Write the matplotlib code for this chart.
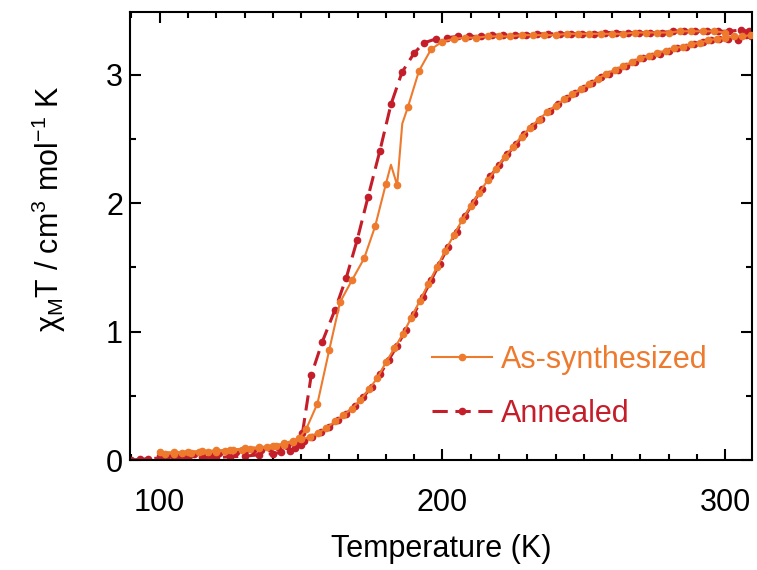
import matplotlib
matplotlib.use("Agg")
import matplotlib.pyplot as plt
from matplotlib.ticker import MultipleLocator

plt.rcParams['font.family'] = ['Liberation Sans', 'DejaVu Sans']
plt.rcParams['mathtext.fontset'] = 'custom'
plt.rcParams['mathtext.rm'] = 'Liberation Sans'
plt.rcParams['mathtext.it'] = 'Liberation Sans'

# ---------------- data ----------------
# As-synthesized: heating branch (abrupt)
as_heat_T = [100, 105, 110, 115, 120, 125, 130, 135, 140, 144, 147, 149.4, 151.8,
             155.8, 160, 163.8, 168, 172.3, 176.2, 180, 181.8, 184, 185.8, 187.8,
             191.7, 196, 200, 204, 208, 212, 216, 220, 224, 228, 232, 236, 240,
             244, 248, 252, 256, 260, 264, 268, 272, 276, 280, 284, 288, 292,
             296, 300]
as_heat_chi = [0.06, 0.06, 0.065, 0.07, 0.075, 0.08, 0.09, 0.10, 0.11, 0.13, 0.15,
               0.17, 0.24, 0.44, 0.86, 1.23, 1.40, 1.57, 1.82, 2.15, 2.30, 2.14,
               2.62, 2.75, 3.03, 3.20, 3.26, 3.28, 3.29, 3.29, 3.30, 3.30, 3.30,
               3.31, 3.31, 3.31, 3.31, 3.32, 3.32, 3.32, 3.32, 3.32, 3.32, 3.33,
               3.33, 3.33, 3.33, 3.34, 3.34, 3.34, 3.34, 3.33]
as_heat_nomarker = [20, 22]

# As-synthesized: cooling branch (gradual)
as_cool_T = [309, 306, 303, 300, 297, 294, 291, 288, 285, 282, 279, 276, 273, 270,
             267, 264, 261, 258, 255, 252, 249, 246, 243, 240, 237, 234, 231, 228,
             225, 222, 219, 216, 213, 210, 207, 204, 201, 198, 195, 192, 189, 186,
             183, 180, 177, 174, 171, 168, 165, 162, 159, 156, 153, 150, 147, 144,
             141, 138, 135, 132, 129, 126, 123, 120, 117, 114, 111, 108, 105, 102]
as_cool_chi = [3.31, 3.30, 3.30, 3.29, 3.28, 3.27, 3.25, 3.24, 3.22, 3.21, 3.19,
               3.17, 3.15, 3.13, 3.10, 3.07, 3.04, 3.01, 2.97, 2.93, 2.89, 2.85,
               2.81, 2.76, 2.71, 2.65, 2.59, 2.52, 2.44, 2.36, 2.27, 2.18, 2.08,
               1.98, 1.87, 1.75, 1.63, 1.50, 1.37, 1.24, 1.11, 0.98, 0.87, 0.76,
               0.64, 0.55, 0.47, 0.40, 0.35, 0.30, 0.25, 0.21, 0.18, 0.16, 0.14,
               0.12, 0.11, 0.10, 0.09, 0.085, 0.08, 0.075, 0.07, 0.065, 0.06, 0.06,
               0.055, 0.055, 0.05, 0.05]

# Annealed: heating branch (abrupt)
an_heat_T = [90, 93, 96, 100, 105, 110, 115, 120, 125, 130, 135, 140, 143, 146,
             148, 150, 150.5, 153.6, 157.5, 162, 166, 169.8, 173.7, 177.9, 181.8,
             185.7, 190, 193.5, 197.7, 201.6, 205.5, 209.5, 213.5, 217.5, 221.5,
             225.5, 229.5, 233.5, 237.5, 241.5, 245.5, 249.5, 253.5, 257.5, 261.5,
             265.5, 269.5, 273.5, 277.5, 281.5, 285.5, 289.5, 293.5, 297.5, 301.5,
             305.5, 308.5]
an_heat_chi = [0.0, 0.005, 0.01, 0.015, 0.02, 0.02, 0.02, 0.02, 0.025, 0.03, 0.04,
               0.05, 0.06, 0.07, 0.09, 0.12, 0.21, 0.66, 0.92, 1.17, 1.42, 1.71,
               2.05, 2.41, 2.77, 3.02, 3.17, 3.25, 3.28, 3.29, 3.30, 3.30, 3.30,
               3.31, 3.31, 3.31, 3.31, 3.32, 3.32, 3.32, 3.32, 3.32, 3.32, 3.33,
               3.33, 3.33, 3.33, 3.33, 3.33, 3.34, 3.34, 3.34, 3.34, 3.34, 3.34,
               3.35, 3.34]

# Annealed: cooling branch (gradual)
an_cool_T = [309, 307.5, 304.5, 301, 298, 295, 292, 289, 286, 283, 280, 277, 274,
             271, 268, 265, 262, 259, 256, 253, 250, 247, 244, 241, 238, 235, 232,
             229, 226, 223, 220, 217, 214, 211, 208, 205, 202, 199, 196, 193, 190,
             187, 184, 181, 178, 175, 172, 169, 166, 163, 160, 157, 154, 151, 148,
             145, 142, 139, 136, 133, 130, 127, 124, 121, 118, 115, 112, 109, 106,
             103, 100]
an_cool_chi = [3.30, 3.31, 3.27, 3.28, 3.28, 3.27, 3.26, 3.24, 3.22, 3.21, 3.19,
               3.16, 3.15, 3.13, 3.10, 3.07, 3.04, 3.01, 2.98, 2.94, 2.90, 2.86,
               2.82, 2.77, 2.72, 2.66, 2.60, 2.54, 2.46, 2.38, 2.30, 2.21, 2.11,
               2.01, 1.90, 1.78, 1.66, 1.53, 1.40, 1.27, 1.14, 1.01, 0.89, 0.78,
               0.67, 0.57, 0.49, 0.42, 0.36, 0.31, 0.26, 0.22, 0.18, 0.15, 0.13,
               0.11, 0.10, 0.09, 0.08, 0.075, 0.07, 0.065, 0.06, 0.055, 0.05, 0.05,
               0.045, 0.045, 0.04, 0.04, 0.035]

labels = ['As-synthesized', 'Annealed']
c_as = '#EE7A2E'
c_an = '#C41E2A'

# ---------------- figure ----------------
fig = plt.figure(figsize=(7.57, 5.70), dpi=100)
ax = fig.add_axes([130/757, 1 - 460/570, 622/757, 448/570])

dash = (0, (5, 2.5))
l1, = ax.plot(as_heat_T, as_heat_chi, '-', color=c_as, lw=1.5, marker='o', ms=4.5,
              markevery=[i for i in range(len(as_heat_T)) if i not in as_heat_nomarker],
              label=labels[0], zorder=3)
ax.plot(as_cool_T, as_cool_chi, '-', color=c_as, lw=1.5, marker='o', ms=4.5, zorder=3)
l2, = ax.plot(an_heat_T, an_heat_chi, color=c_an, lw=2.2, linestyle=dash, marker='o',
              ms=4.5, label=labels[1], zorder=2)
ax.plot(an_cool_T, an_cool_chi, color=c_an, lw=2.2, linestyle=dash, marker='o', ms=4.5,
        zorder=2)

ax.set_xlim(89.5, 309.5)
ax.set_ylim(0, 3.49)
ax.xaxis.set_major_locator(MultipleLocator(100))
ax.xaxis.set_minor_locator(MultipleLocator(10))
ax.yaxis.set_major_locator(MultipleLocator(1))
ax.yaxis.set_minor_locator(MultipleLocator(0.5))
ax.tick_params(which='both', direction='in', top=True, right=True, width=1.5,
               labelsize=22, colors='black')
ax.tick_params(which='major', length=8)
ax.tick_params(which='minor', length=4.5)
ax.tick_params(axis='x', which='major', pad=20)
ax.tick_params(axis='y', which='major', pad=5)
for s in ax.spines.values():
    s.set_linewidth(1.5)

ax.set_xlabel('Temperature (K)', fontsize=22, labelpad=12)
ax.set_ylabel('χ$_\\mathrm{M}$T / cm$^{3}$ mol$^{-1}$ K', fontsize=22)
ax.yaxis.set_label_coords(-0.10, 0.56)

leg = ax.legend(handles=[l1, l2], loc='upper left', bbox_to_anchor=(0.442, 0.318),
                frameon=False, fontsize=22, labelcolor='linecolor', handlelength=1.95,
                handletextpad=0.28, labelspacing=0.78, markerscale=1.0, numpoints=1)

fig.savefig('out.png', dpi=100)
